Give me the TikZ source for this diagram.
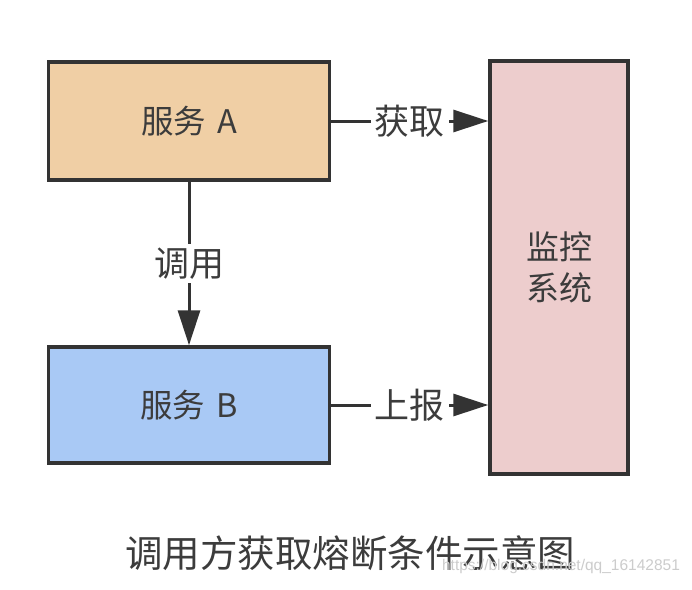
\documentclass[tikz,border=0pt]{standalone}
\usepackage{fontspec}
\setmainfont{Noto Sans CJK SC}
\newfontfamily\markfont{Liberation Sans}
\usepackage{xcolor}
\usepackage{tikz}
\usetikzlibrary{arrows.meta, positioning, calc}
\definecolor{edgegray}{HTML}{333333}
\definecolor{textgray}{HTML}{3C3C3C}
\definecolor{tanfill}{HTML}{F0CFA5}
\definecolor{bluefill}{HTML}{A9C9F5}
\definecolor{pinkfill}{HTML}{EDCDCD}
\tikzstyle{svc} = [rectangle, draw=edgegray, line width=3.5pt, minimum width=281pt, minimum height=118pt, text=textgray, font=\fontsize{32.5}{38}\selectfont]
\tikzstyle{arrow} = [draw=edgegray, line width=3pt, -{Triangle[length=35pt, width=22pt]}]
\tikzstyle{lbl} = [fill=white, inner sep=4pt, text=textgray, font=\fontsize{35}{40}\selectfont]

\begin{document}
\begin{tikzpicture}[x=1pt, y=-1pt]
    \useasboundingbox[fill=white] (0,0) rectangle (692,589);

    % Services
    \node[svc, fill=tanfill] (svcA) at (189,121) {服务\,\,A};
    \node[svc, fill=bluefill, minimum height=116pt] (svcB) at (189,405) {服务\,\,B};

    % Monitor
    \node[rectangle, draw=edgegray, line width=3.5pt, fill=pinkfill, minimum width=138pt, minimum height=413pt,
          text=textgray, align=center, font=\fontsize{33}{41}\selectfont] (mon) at (559,267.5) {监控\\系统};

    % Call
    \draw[arrow] (svcA.south) -- (svcB.north) node[midway, lbl] {调用};

    % Fetch / report
    \foreach \src/\word in {svcA/获取, svcB/上报} {
        \draw[arrow] (\src.east) -- (\src.east -| mon.west) node[midway, lbl] {\word};
    }

    % Caption
    \node[text=textgray, font=\fontsize{37.5}{42}\selectfont] (cap) at (350,553) {调用方获取熔断条件示意图};
    \node[text=black!20, font=\markfont\fontsize{15.5}{18}\selectfont] (mark) at (561,566) {https://blog.csdn.net/qq\_16142851};
\end{tikzpicture}
\end{document}
